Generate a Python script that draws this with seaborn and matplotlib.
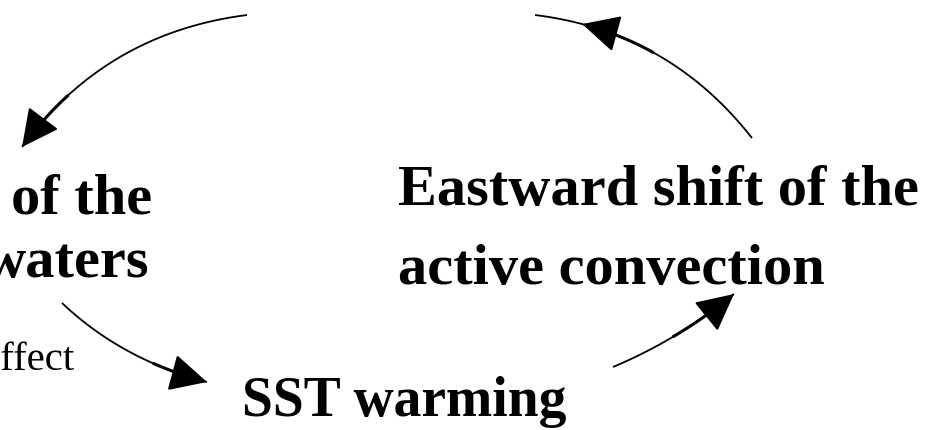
"""
Diagrama del ciclo de retroalimentacion (recorte): textos en negrita
unidos por flechas curvas. Coordenadas en pixeles de la imagen (y hacia abajo).
"""
import numpy as np
import matplotlib
matplotlib.use("Agg")
import matplotlib.pyplot as plt
import seaborn as sns

# textos visibles del recorte
label_texts = ["of the", "waters", "Eastward shift of the",
               "active convection", "SST warming", "effect"]
label_x = [152, 149, 398, 398, 242, 75]
label_y = [214, 277, 205, 284, 416, 370]
label_ha = ["right", "right", "left", "left", "left", "right"]
label_size = [42, 42, 42, 42, 40, 29.5]
label_bold = [True, True, True, True, True, False]

# flechas: curva (inicio, punto medio, fin), punta de la cabeza y
# comienzo del tramo grueso junto a la cabeza
arrow_start = [(247, 15), (62, 303), (613, 367), (752, 138)]
arrow_via = [(120, 57), (128, 351), (676, 335), (656, 54)]
arrow_end = [(22, 147), (207, 382), (734, 294), (535, 15)]
arrow_tip = [(22, 147), (207, 382), (734, 294), (582, 25)]
arrow_thick = [(67, 93), (155, 358), (673, 337), (653, 53)]

W, H = 943, 430

sns.set_theme(style="white")
plt.rcParams["font.family"] = ["Liberation Serif", "DejaVu Serif"]

fig = plt.figure(figsize=(W / 100, H / 100), dpi=100)
ax = fig.add_axes([0, 0, 1, 1])
ax.set_xlim(0, W)
ax.set_ylim(H, 0)
ax.axis("off")


def bezier(p0, via, p2, t):
    """Bezier cuadratica que pasa por 'via' en t=0.5."""
    p0, via, p2 = map(np.asarray, (p0, via, p2))
    c = 2 * via - 0.5 * (p0 + p2)
    t = np.atleast_1d(t)[:, None]
    return (1 - t) ** 2 * p0 + 2 * (1 - t) * t * c + t ** 2 * p2


def nearest_t(pts, ts, p):
    return ts[np.argmin(np.hypot(*(pts - np.asarray(p)).T))]


head = "-|>,head_length=1.95,head_width=0.98"
ts = np.linspace(0, 1, 400)

for s, v, e, tip, thick in zip(arrow_start, arrow_via, arrow_end,
                               arrow_tip, arrow_thick):
    pts = bezier(s, v, e, ts)
    ax.plot(pts[:, 0], pts[:, 1], color="black", lw=1.3,
            solid_capstyle="butt")
    t_tip = nearest_t(pts, ts, tip)
    t_thick = nearest_t(pts, ts, thick)
    seg = bezier(s, v, e, np.linspace(t_thick, t_tip - 0.03, 30))
    ax.plot(seg[:, 0], seg[:, 1], color="black", lw=2.2,
            solid_capstyle="butt")
    a, b = bezier(s, v, e, [t_tip - 0.03, t_tip])
    ax.annotate("", xy=b, xytext=a,
                arrowprops=dict(arrowstyle=head, color="black", lw=1.5,
                                shrinkA=0, shrinkB=0))

for txt, x, y, ha, fs, bold in zip(label_texts, label_x, label_y,
                                   label_ha, label_size, label_bold):
    ax.text(x, y, txt, ha=ha, va="baseline", fontsize=fs,
            fontweight="bold" if bold else "normal", color="black")

fig.savefig("out.png", dpi=100)
